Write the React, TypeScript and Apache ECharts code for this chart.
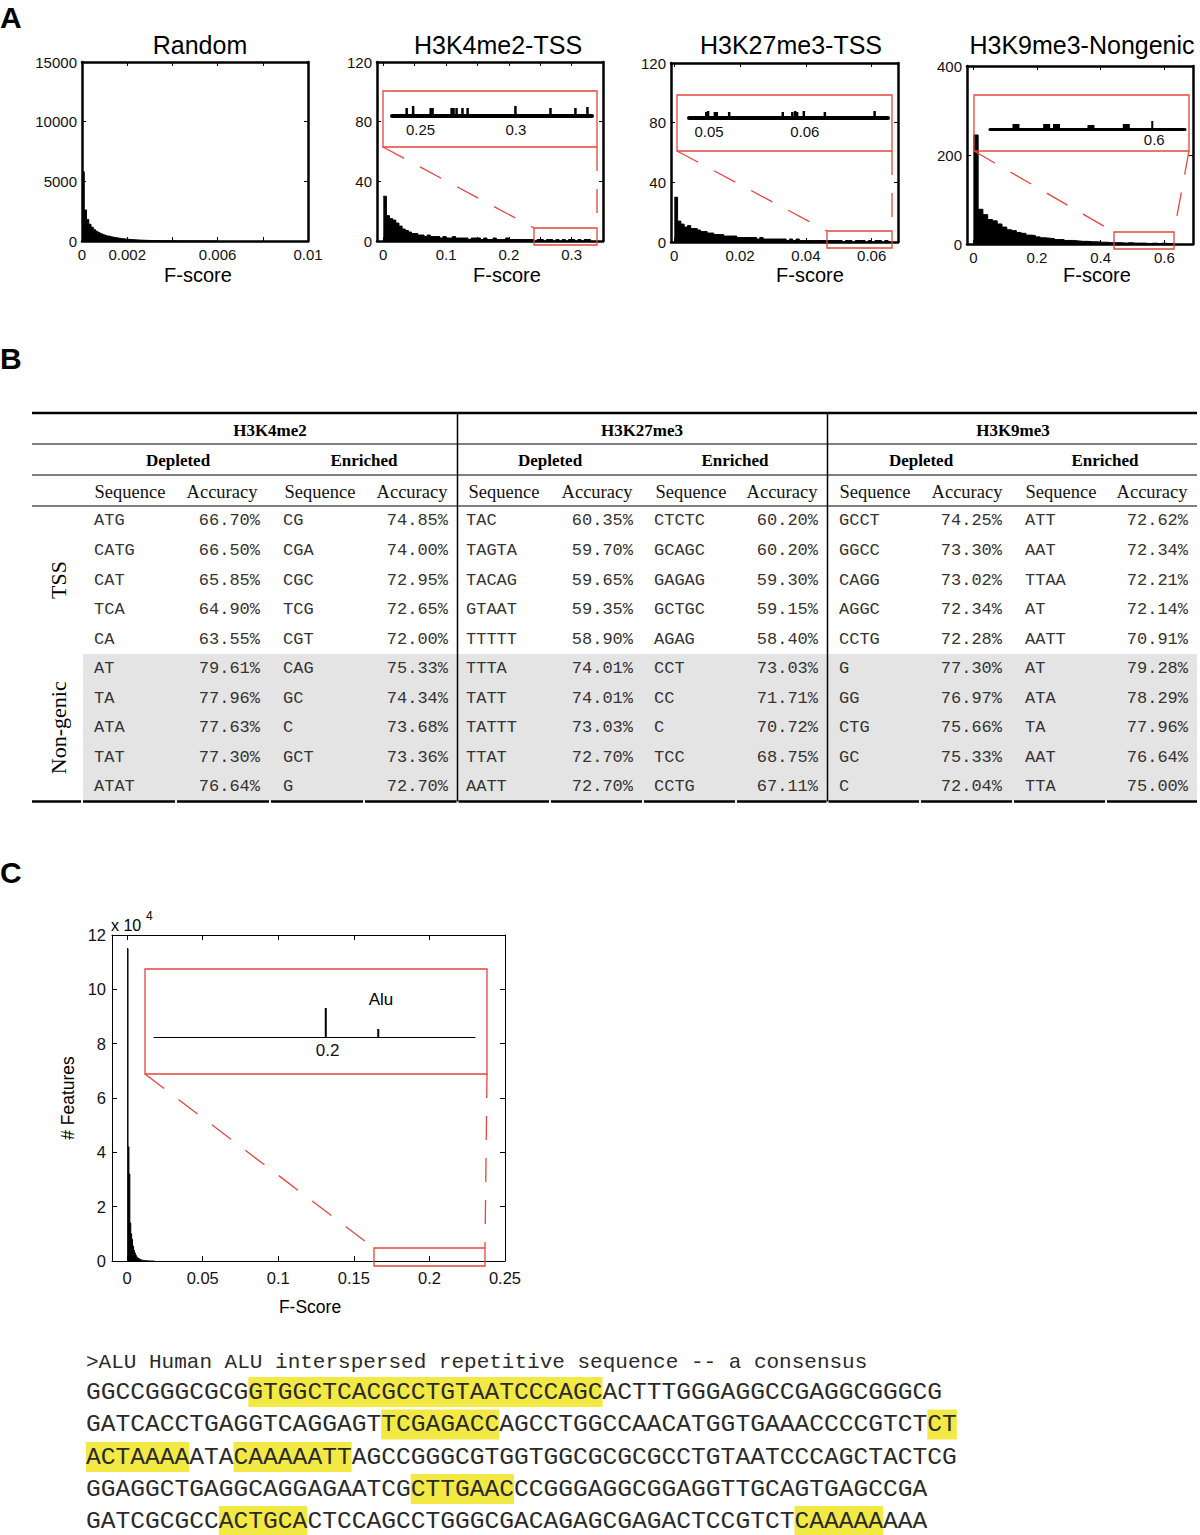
import React, { useEffect, useRef } from 'react';
import * as echarts from 'echarts';

// ---------------- Panel A histogram data (bin i starts at i * binWidth) ----------------
const randomBinWidth = 0.0001;
const randomCounts = [5800, 2600, 1800, 1400, 1150, 950, 820, 700, 610, 530, 470, 410, 360, 320, 285, 250, 222, 198, 176, 157, 140, 124, 110, 98, 87, 77, 68, 60, 53, 47, 41, 36, 32, 28, 25, 22, 19, 17, 15, 13, 11, 10, 9, 8, 7, 6, 5, 5, 4, 4, 3, 3, 3, 2, 2, 2, 2, 1, 1, 1];

const h3k4me2BinWidth = 0.005;
const h3k4me2Counts = [30, 17, 15, 14, 12, 10, 8, 7, 6, 5, 5, 4, 4, 3, 4, 3, 3, 3, 2, 3, 2, 2, 3, 2, 2, 2, 2, 1, 2, 2, 2, 1, 2, 1, 1, 2, 1, 1, 1, 2, 1, 1, 1, 1, 1, 1, 1, 1, 0, 1, 1, 0, 1, 1, 0, 1, 0, 1, 0, 1, 1, 0, 1, 0, 1, 1];

const h3k27me3BinWidth = 0.001;
const h3k27me3Counts = [30, 14, 12, 10, 11, 9, 9, 8, 7, 7, 6, 6, 5, 5, 5, 4, 4, 4, 4, 3, 3, 3, 3, 3, 3, 2, 3, 2, 2, 2, 2, 2, 2, 2, 1, 2, 1, 2, 1, 1, 1, 1, 1, 1, 1, 1, 1, 1, 1, 1, 1, 0, 1, 1, 0, 1, 1, 1, 0, 1, 0, 1, 1, 0, 1, 0];

const h3k9me3BinWidth = 0.015;
const h3k9me3Counts = [245, 78, 66, 55, 52, 45, 38, 32, 30, 26, 24, 20, 19, 16, 14, 13, 12, 10, 10, 8, 8, 7, 6, 6, 5, 5, 4, 4, 3, 3, 3, 2, 3, 2, 2, 2, 1, 2, 1, 2, 1, 1];

// inset (zoomed tail) spikes
const h3k4me2InsetX = [0.2427, 0.2461, 0.2553, 0.2563, 0.2663, 0.2673, 0.2689, 0.272, 0.2747, 0.2998, 0.3182, 0.3313, 0.3376];
const h3k4me2InsetH = [8, 10, 8, 8, 8, 8, 8, 8, 8, 10, 8, 8, 9];
const h3k27me3InsetX = [0.0497, 0.0499, 0.0506, 0.0508, 0.0521, 0.0577, 0.0587, 0.059, 0.0592, 0.0599, 0.0621, 0.0673];
const h3k27me3InsetH = [6, 7, 6, 6, 6, 6, 6, 7, 6, 7, 6, 7];
const h3k9me3InsetX = [0.4653, 0.4952, 0.5048, 0.5384, 0.5728];
const h3k9me3InsetH = [5, 5, 5, 4, 5];
const h3k9me3SpikeX = [0.5981];
const h3k9me3SpikeH = [8];

// tick values
const randomXTicks = [0, 0.002, 0.004, 0.006, 0.008, 0.01];
const randomXLabels = [0, 0.002, 0.006, 0.01];
const h3k4me2XTicks = [0, 0.05, 0.1, 0.15, 0.2, 0.25, 0.3];
const h3k4me2XLabels = [0, 0.1, 0.2, 0.3];
const h3k27me3XTicks = [0, 0.02, 0.04, 0.06];
const h3k9me3XTicks = [0, 0.2, 0.4, 0.6];
const h3k4me2InsetLabels = [0.25, 0.3];
const h3k27me3InsetLabels = [0.05, 0.06];
const h3k9me3InsetLabels = [0.6];

// ---------------- Panel C data ----------------
const aluBinWidth = 0.0006;
const aluCounts = [115000, 42000, 32000, 14000, 10000, 8000, 5500, 4000, 3000, 2200, 1600, 1200, 900, 700, 500, 400, 300, 220, 160, 120, 90, 70, 50, 40, 30, 20, 15, 10, 8, 5];
const aluXTicks = [0, 0.05, 0.1, 0.15, 0.2, 0.25];
const aluInsetX = [0.1996, 0.2117];
const aluInsetH = [29, 8];
const aluInsetLabels = [0.2];

// ---------------- Panel B table ----------------
const groupNames = ['H3K4me2', 'H3K27me3', 'H3K9me3'];
const subNames = ['Depleted', 'Enriched'];
const colNames = ['Sequence', 'Accuracy'];
const rowGroups = ['TSS', 'Non-genic'];

const tssH3k4me2DepSeq = ['ATG', 'CATG', 'CAT', 'TCA', 'CA'];
const tssH3k4me2DepAcc = [66.7, 66.5, 65.85, 64.9, 63.55];
const tssH3k4me2EnrSeq = ['CG', 'CGA', 'CGC', 'TCG', 'CGT'];
const tssH3k4me2EnrAcc = [74.85, 74.0, 72.95, 72.65, 72.0];
const tssH3k27me3DepSeq = ['TAC', 'TAGTA', 'TACAG', 'GTAAT', 'TTTTT'];
const tssH3k27me3DepAcc = [60.35, 59.7, 59.65, 59.35, 58.9];
const tssH3k27me3EnrSeq = ['CTCTC', 'GCAGC', 'GAGAG', 'GCTGC', 'AGAG'];
const tssH3k27me3EnrAcc = [60.2, 60.2, 59.3, 59.15, 58.4];
const tssH3k9me3DepSeq = ['GCCT', 'GGCC', 'CAGG', 'AGGC', 'CCTG'];
const tssH3k9me3DepAcc = [74.25, 73.3, 73.02, 72.34, 72.28];
const tssH3k9me3EnrSeq = ['ATT', 'AAT', 'TTAA', 'AT', 'AATT'];
const tssH3k9me3EnrAcc = [72.62, 72.34, 72.21, 72.14, 70.91];

const ngH3k4me2DepSeq = ['AT', 'TA', 'ATA', 'TAT', 'ATAT'];
const ngH3k4me2DepAcc = [79.61, 77.96, 77.63, 77.3, 76.64];
const ngH3k4me2EnrSeq = ['CAG', 'GC', 'C', 'GCT', 'G'];
const ngH3k4me2EnrAcc = [75.33, 74.34, 73.68, 73.36, 72.7];
const ngH3k27me3DepSeq = ['TTTA', 'TATT', 'TATTT', 'TTAT', 'AATT'];
const ngH3k27me3DepAcc = [74.01, 74.01, 73.03, 72.7, 72.7];
const ngH3k27me3EnrSeq = ['CCT', 'CC', 'C', 'TCC', 'CCTG'];
const ngH3k27me3EnrAcc = [73.03, 71.71, 70.72, 68.75, 67.11];
const ngH3k9me3DepSeq = ['G', 'GG', 'CTG', 'GC', 'C'];
const ngH3k9me3DepAcc = [77.3, 76.97, 75.66, 75.33, 72.04];
const ngH3k9me3EnrSeq = ['AT', 'ATA', 'TA', 'AAT', 'TTA'];
const ngH3k9me3EnrAcc = [79.28, 78.29, 77.96, 76.64, 75.0];

// ---------------- Alu sequence ----------------
const aluHeader = '>ALU Human ALU interspersed repetitive sequence -- a consensus';
const aluLines = [
  'GGCCGGGCGCGGTGGCTCACGCCTGTAATCCCAGCACTTTGGGAGGCCGAGGCGGGCG',
  'GATCACCTGAGGTCAGGAGTTCGAGACCAGCCTGGCCAACATGGTGAAACCCCGTCTCT',
  'ACTAAAAATACAAAAATTAGCCGGGCGTGGTGGCGCGCGCCTGTAATCCCAGCTACTCG',
  'GGAGGCTGAGGCAGGAGAATCGCTTGAACCCGGGAGGCGGAGGTTGCAGTGAGCCGA',
  'GATCGCGCCACTGCACTCCAGCCTGGGCGACAGAGCGAGACTCCGTCTCAAAAAAAA',
];
// [line index, first character, number of characters]
const aluHighlights = [
  [0, 11, 24],
  [1, 20, 8],
  [1, 57, 2],
  [2, 0, 7],
  [2, 10, 8],
  [3, 22, 7],
  [4, 9, 6],
  [4, 48, 6],
];

const SANS = '"Liberation Sans", Arial, Helvetica, sans-serif';
const SERIF = '"Liberation Serif", "Times New Roman", serif';
const MONO = '"Liberation Mono", "Courier New", monospace';
const RED = '#e5463d';
const YELLOW = '#f3e945';

function stepHist(counts: number[], width: number) {
  const d = counts.map((c, i) => [i * width, c]);
  d.push([counts.length * width, 0]);
  return d;
}

function T(text: string, x: number, y: number, size: number, family: string, o: any = {}) {
  return {
    type: 'text',
    x,
    y,
    rotation: o.rotation || 0,
    z: 20,
    silent: true,
    style: {
      text,
      fill: o.color || '#000',
      fontSize: size,
      fontFamily: family,
      fontWeight: o.weight || 'normal',
      align: o.align || 'center',
      textAlign: o.align || 'center',
      verticalAlign: 'middle',
      textVerticalAlign: 'middle',
    },
  };
}
function L(x1: number, y1: number, x2: number, y2: number, color: string, w: number, dash?: number[]) {
  return {
    type: 'line',
    z: 20,
    silent: true,
    shape: { x1, y1, x2, y2 },
    style: { stroke: color, lineWidth: w, lineDash: dash || null, fill: null },
  };
}
function R(x: number, y: number, width: number, height: number, style: any, z = 20) {
  return { type: 'rect', z, silent: true, shape: { x, y, width, height }, style };
}

function buildOption() {
  const grids: any[] = [];
  const xAxes: any[] = [];
  const yAxes: any[] = [];
  const series: any[] = [];
  const els: any[] = [];

  const addMain = (p: any) => {
    const gi = grids.length;
    grids.push({ left: p.box[0], top: p.box[1], width: p.box[2], height: p.box[3], containLabel: false, outerBoundsMode: 'none' });
    const axisLine = { show: true, onZero: false, lineStyle: { color: '#000', width: p.lw } };
    const lab = { fontSize: p.fs, fontFamily: SANS, color: '#111' };
    const xi = xAxes.length;
    xAxes.push({
      type: 'value', gridIndex: gi, position: 'bottom', min: p.xMin, max: p.xMax,
      axisLine, splitLine: { show: false },
      axisTick: { show: true, inside: true, length: p.tl, lineStyle: { color: '#000' }, customValues: p.xTicks },
      axisLabel: { ...lab, margin: p.xm, customValues: p.xLabels, formatter: (v: number) => String(v) },
    });
    xAxes.push({
      type: 'value', gridIndex: gi, position: 'top', min: p.xMin, max: p.xMax,
      axisLine, splitLine: { show: false },
      axisTick: { show: true, inside: true, length: p.tl, lineStyle: { color: '#000' }, customValues: p.xTicks },
      axisLabel: { show: false },
    });
    const yi = yAxes.length;
    yAxes.push({
      type: 'value', gridIndex: gi, position: 'left', min: 0, max: p.yMax, interval: p.yStep,
      axisLine, splitLine: { show: false },
      axisTick: { show: true, inside: true, length: p.tl, lineStyle: { color: '#000' } },
      axisLabel: { ...lab, margin: p.ym, formatter: p.yFmt || ((v: number) => String(v)) },
    });
    yAxes.push({
      type: 'value', gridIndex: gi, position: 'right', min: 0, max: p.yMax, interval: p.yStep,
      axisLine, splitLine: { show: false },
      axisTick: { show: true, inside: true, length: p.tl, lineStyle: { color: '#000' } },
      axisLabel: { show: false },
    });
    series.push({
      type: 'line', xAxisIndex: xi, yAxisIndex: yi, step: 'end', symbol: 'none',
      data: stepHist(p.counts, p.bw),
      lineStyle: { color: '#000', width: 1 },
      areaStyle: { color: '#000', opacity: 1 },
      z: 3,
    });
  };

  const addInset = (p: any) => {
    const gi = grids.length;
    grids.push({ left: p.box[0], top: p.box[1], width: p.box[2], height: p.box[3], containLabel: false, outerBoundsMode: 'none' });
    const xi = xAxes.length;
    xAxes.push({
      type: 'value', gridIndex: gi, min: p.xMin, max: p.xMax,
      axisLine: { show: p.showLine !== false, onZero: false, lineStyle: { color: '#000', width: p.lw } },
      axisTick: { show: false }, splitLine: { show: false },
      axisLabel: p.labels ? { customValues: p.labels, fontSize: p.fs, fontFamily: SANS, color: '#111', margin: p.m, formatter: (v: number) => String(v) } : { show: false },
    });
    const yi = yAxes.length;
    yAxes.push({ type: 'value', gridIndex: gi, show: false, min: 0, max: p.yMax });
    series.push({
      type: 'bar', xAxisIndex: xi, yAxisIndex: yi, barWidth: p.bw,
      data: p.xs.map((x: number, i: number) => [x, p.hs[i]]),
      itemStyle: { color: '#000' }, z: 4,
    });
  };

  // ---------- Panel A ----------
  const aStyle = { lw: 2.5, tl: 4, fs: 15, xm: 6, ym: 5 };
  addMain({ ...aStyle, box: [82, 62, 226, 179], xMin: 0, xMax: 0.01, xTicks: randomXTicks, xLabels: randomXLabels, yMax: 15000, yStep: 5000, counts: randomCounts, bw: randomBinWidth });
  addMain({ ...aStyle, box: [377, 62, 226, 179], xMin: -0.01, xMax: 0.35, xTicks: h3k4me2XTicks, xLabels: h3k4me2XLabels, yMax: 120, yStep: 40, counts: h3k4me2Counts, bw: h3k4me2BinWidth });
  addMain({ ...aStyle, box: [671, 63, 227, 179], xMin: -0.001, xMax: 0.068, xTicks: h3k27me3XTicks, xLabels: h3k27me3XTicks, yMax: 120, yStep: 40, counts: h3k27me3Counts, bw: h3k27me3BinWidth });
  addMain({ ...aStyle, box: [967, 66, 226, 178], xMin: -0.02, xMax: 0.69, xTicks: h3k9me3XTicks, xLabels: h3k9me3XTicks, yMax: 400, yStep: 200, counts: h3k9me3Counts, bw: h3k9me3BinWidth });

  addInset({ box: [392, 106, 200, 10], xMin: 0.235, xMax: 0.34, yMax: 10, lw: 4, labels: h3k4me2InsetLabels, fs: 15, m: 6, xs: h3k4me2InsetX, hs: h3k4me2InsetH, bw: 2.5 });
  addInset({ box: [689, 108, 199, 10], xMin: 0.0479, xMax: 0.0687, yMax: 10, lw: 4, labels: h3k27me3InsetLabels, fs: 15, m: 6, xs: h3k27me3InsetX, hs: h3k27me3InsetH, bw: 2.5 });
  addInset({ box: [990, 119, 195, 10], xMin: 0.44, xMax: 0.63, yMax: 10, lw: 3, labels: h3k9me3InsetLabels, fs: 15, m: 3, xs: h3k9me3InsetX, hs: h3k9me3InsetH, bw: 7 });
  addInset({ box: [990, 119, 195, 10], xMin: 0.44, xMax: 0.63, yMax: 10, lw: 3, showLine: false, xs: h3k9me3SpikeX, hs: h3k9me3SpikeH, bw: 2 });

  // ---------- Panel C ----------
  addMain({ lw: 1, tl: 5, fs: 16.5, xm: 8, ym: 6, box: [112, 935, 393, 326], xMin: -0.01, xMax: 0.25, xTicks: aluXTicks, xLabels: aluXTicks, yMax: 120000, yStep: 20000, yFmt: (v: number) => String(v / 10000), counts: aluCounts, bw: aluBinWidth });
  addInset({ box: [154, 1007, 321, 30], xMin: 0.16, xMax: 0.234, yMax: 30, lw: 1.2, labels: aluInsetLabels, fs: 17, m: 5, xs: aluInsetX, hs: aluInsetH, bw: 2 });

  // ---------- texts of panel A ----------
  els.push(T('A', 0, 17, 30, SANS, { weight: 'bold', align: 'left' }));
  const titles = [['Random', 200], ['H3K4me2-TSS', 498], ['H3K27me3-TSS', 791], ['H3K9me3-Nongenic', 1082]];
  titles.forEach(([t, x]) => els.push(T(t as string, x as number, 45, 25, SANS)));
  [198, 507, 810, 1097].forEach((x) => els.push(T('F-score', x, 275, 20, SANS)));

  // zoom boxes + dashed connectors
  const dash = [24, 18];
  const zooms = [
    { inset: [383, 91, 214, 56], zoom: [534, 228, 63, 17] },
    { inset: [677, 95, 215, 56], zoom: [827, 231, 65, 17] },
    { inset: [974, 95, 215, 56], zoom: [1114, 232, 60, 17] },
    { inset: [145, 969, 342, 105], zoom: [374, 1248, 111, 18] },
  ];
  zooms.forEach(({ inset, zoom }) => {
    els.push(R(inset[0], inset[1], inset[2], inset[3], { fill: null, stroke: RED, lineWidth: 1.3 }));
    els.push(R(zoom[0], zoom[1], zoom[2], zoom[3], { fill: null, stroke: RED, lineWidth: 1.3 }));
    els.push(L(inset[0], inset[1] + inset[3], zoom[0], zoom[1], RED, 1.3, dash));
    els.push(L(inset[0] + inset[2], inset[1] + inset[3], zoom[0] + zoom[2], zoom[1], RED, 1.3, dash));
  });

  // ---------- texts of panel C ----------
  els.push(T('C', 0, 872, 30, SANS, { weight: 'bold', align: 'left' }));
  els.push(T('x 10', 111, 925, 16, SANS, { align: 'left' }));
  els.push(T('4', 146, 916, 12, SANS, { align: 'left' }));
  els.push(T('F-Score', 310, 1307, 17.5, SANS));
  els.push(T('# Features', 68, 1098, 17.5, SANS, { rotation: Math.PI / 2 }));
  els.push(T('Alu', 381, 999, 17, SANS));

  // ---------- Panel B table ----------
  els.push(T('B', 0, 358, 30, SANS, { weight: 'bold', align: 'left' }));
  const tL = 32, tR = 1197;
  const yTop = 413, yG = 444, yS = 475, yH = 506, yMid = 654, yBot = 801.5;
  els.push(R(83, yMid, tR - 83, yBot - yMid, { fill: '#e5e4e5' }, 1));
  els.push(L(tL, yTop, tR, yTop, '#000', 2.5));
  els.push(L(tL, yG, tR, yG, '#000', 1));
  els.push(L(tL, yS, tR, yS, '#000', 1));
  els.push(L(tL, yH, tR, yH, '#000', 1));
  const colEdges = [tL, 82, 176, 270, 364, 457.5, 550, 643, 736, 827.5, 920, 1013, 1106, tR];
  for (let i = 0; i < colEdges.length - 1; i++) {
    els.push(L(colEdges[i] + (i === 0 ? 0 : 1), yBot, colEdges[i + 1] - (i === colEdges.length - 2 ? 0 : 1), yBot, '#000', 2.5));
  }
  els.push(L(457.5, yTop, 457.5, yBot, '#000', 1.5));
  els.push(L(827.5, yTop, 827.5, yBot, '#000', 1.5));

  const groupCenters = [270, 642, 1013];
  const subCenters = [178, 364, 550, 735, 921, 1105];
  const headCenters = [130, 222, 320, 412, 504, 597, 691, 782, 875, 967, 1061, 1152];
  groupNames.forEach((g, i) => els.push(T(g, groupCenters[i], 430, 17, SERIF, { weight: 'bold' })));
  subCenters.forEach((x, i) => els.push(T(subNames[i % 2], x, 460.5, 17, SERIF, { weight: 'bold' })));
  headCenters.forEach((x, i) => els.push(T(colNames[i % 2], x, 491.5, 18.5, SERIF, { color: '#111' })));

  const seqX = [94, 283, 466, 654, 839, 1025];
  const accX = [260, 448, 633, 818, 1002, 1188];
  const tssCols: [string[], number[]][] = [
    [tssH3k4me2DepSeq, tssH3k4me2DepAcc], [tssH3k4me2EnrSeq, tssH3k4me2EnrAcc],
    [tssH3k27me3DepSeq, tssH3k27me3DepAcc], [tssH3k27me3EnrSeq, tssH3k27me3EnrAcc],
    [tssH3k9me3DepSeq, tssH3k9me3DepAcc], [tssH3k9me3EnrSeq, tssH3k9me3EnrAcc],
  ];
  const ngCols: [string[], number[]][] = [
    [ngH3k4me2DepSeq, ngH3k4me2DepAcc], [ngH3k4me2EnrSeq, ngH3k4me2EnrAcc],
    [ngH3k27me3DepSeq, ngH3k27me3DepAcc], [ngH3k27me3EnrSeq, ngH3k27me3EnrAcc],
    [ngH3k9me3DepSeq, ngH3k9me3DepAcc], [ngH3k9me3EnrSeq, ngH3k9me3EnrAcc],
  ];
  const blocks = [
    { cols: tssCols, top: yH, h: (yMid - yH) / 5 },
    { cols: ngCols, top: yMid, h: (yBot - yMid) / 5 },
  ];
  blocks.forEach((b, bi) => {
    b.cols.forEach(([seqs, accs], c) => {
      seqs.forEach((s, r) => {
        const y = b.top + b.h * (r + 0.5);
        els.push(T(s, seqX[c], y, 17, MONO, { align: 'left', color: '#333' }));
        els.push(T(accs[r].toFixed(2) + '%', accX[c], y, 17, MONO, { align: 'right', color: '#333' }));
      });
    });
    els.push(T(rowGroups[bi], 58, b.top + b.h * 2.5, 22, SERIF, { rotation: Math.PI / 2 }));
  });

  // ---------- Alu sequence ----------
  const seqLeft = 86;
  const cw = 14.76;
  const lineY = [1392, 1424.5, 1457, 1489, 1521];
  aluHighlights.forEach(([li, st, n]) => {
    els.push(R(seqLeft + st * cw, lineY[li] - 15, n * cw, 30, { fill: YELLOW }, 5));
  });
  els.push(T(aluHeader, seqLeft, 1362, 21, MONO, { align: 'left', color: '#2a2a2a' }));
  aluLines.forEach((s, i) => els.push(T(s, seqLeft, lineY[i], 24.6, MONO, { align: 'left', color: '#2a2a2a' })));

  return {
    animation: false,
    backgroundColor: '#fff',
    grid: grids,
    xAxis: xAxes,
    yAxis: yAxes,
    series,
    graphic: { elements: els },
  };
}

export default function App() {
  const ref = useRef<HTMLDivElement>(null);
  useEffect(() => {
    document.body.style.margin = '0';
    const chart = echarts.init(ref.current as HTMLDivElement, null, { renderer: 'svg' });
    chart.setOption(buildOption() as any);
    return () => chart.dispose();
  }, []);
  return <div ref={ref} style={{ width: 1200, height: 1535 }} />;
}
